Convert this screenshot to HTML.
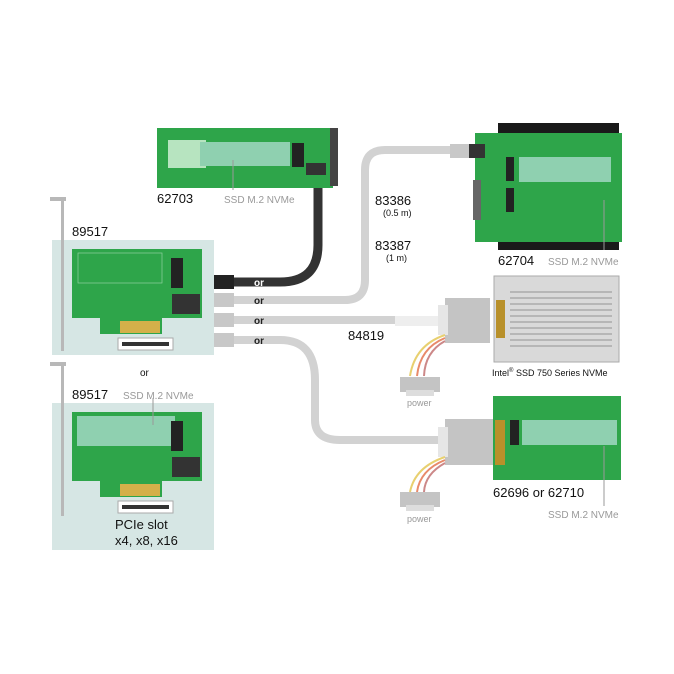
<!DOCTYPE html>
<html><head><meta charset="utf-8"><style>
html,body{margin:0;padding:0;background:#fff}
svg{display:block}
text{font-family:"Liberation Sans",Arial,sans-serif}
</style></head><body>
<svg width="674" height="674" viewBox="0 0 674 674" xmlns="http://www.w3.org/2000/svg">
<rect width="674" height="674" fill="#fff"/>
<rect x="52" y="240" width="162" height="115" fill="#d6e6e4"/>
<rect x="52" y="403" width="162" height="147" fill="#d6e6e4"/>
<path d="M50 197 h16 v4 h-2 v150 h-3 v-150 h-11z" fill="#b8b8b8"/>
<path d="M50 362 h16 v4 h-2 v150 h-3 v-150 h-11z" fill="#b8b8b8"/>
<g>
<path d="M72 249 h130 v69 h-40 v16 h-62 v-16 h-28z" fill="#2ea54a"/>
<rect x="78" y="253" width="84" height="30" fill="none" stroke="#8fd0a0" stroke-width="0.7"/>
<rect x="171" y="258" width="12" height="30" fill="#222"/>
<rect x="172" y="294" width="28" height="20" fill="#333"/>
<rect x="120" y="321" width="40" height="12" fill="#d4b04a"/>
<rect x="118" y="338" width="55" height="12" fill="#fff" stroke="#aaa"/>
<rect x="122" y="342" width="47" height="4" fill="#333"/>
</g>
<g>
<path d="M72 412 h130 v69 h-40 v16 h-62 v-16 h-28z" fill="#2ea54a"/>
<rect x="77" y="416" width="98" height="30" fill="#8fd0b0"/>
<rect x="171" y="421" width="12" height="30" fill="#222"/>
<rect x="172" y="457" width="28" height="20" fill="#333"/>
<rect x="120" y="484" width="40" height="12" fill="#d4b04a"/>
<rect x="118" y="501" width="55" height="12" fill="#fff" stroke="#aaa"/>
<rect x="122" y="505" width="47" height="4" fill="#333"/>
</g>
<rect x="157" y="128" width="176" height="60" fill="#2ea54a"/>
<rect x="168" y="140" width="38" height="28" fill="#b7e4c0"/>
<rect x="200" y="142" width="90" height="24" fill="#8fd0b0"/>
<rect x="292" y="143" width="12" height="24" fill="#222"/>
<rect x="330" y="128" width="8" height="58" fill="#444"/>
<rect x="306" y="163" width="20" height="12" fill="#333"/>
<path d="M318 188 V245 Q318 282 280 282 H232" fill="none" stroke="#333" stroke-width="9"/>
<rect x="214" y="275" width="20" height="14" fill="#222"/>
<g fill="none" stroke="#d2d2d2" stroke-width="8">
<path d="M232 300 H345 Q365 300 365 280 V170 Q365 150 385 150 H455"/>
<path d="M232 320 H450"/>
<path d="M232 340 H280 Q315 340 315 380 V420 Q315 440 340 440 H450"/>
</g>
<rect x="214" y="293" width="20" height="14" fill="#c8c8c8"/>
<rect x="214" y="313" width="20" height="14" fill="#c8c8c8"/>
<rect x="214" y="333" width="20" height="14" fill="#c8c8c8"/>
<rect x="450" y="144" width="20" height="14" fill="#c8c8c8"/>
<rect x="395" y="316" width="45" height="10" fill="#eee"/>
<rect x="498" y="123" width="121" height="127" fill="#1a1a1a"/>
<rect x="475" y="133" width="147" height="109" fill="#2ea54a"/>
<rect x="519" y="157" width="92" height="25" fill="#8fd0b0"/>
<rect x="469" y="144" width="16" height="14" fill="#333"/>
<rect x="506" y="157" width="8" height="24" fill="#222"/>
<rect x="506" y="188" width="8" height="24" fill="#222"/>
<rect x="473" y="180" width="8" height="40" fill="#666"/>
<rect x="494" y="276" width="125" height="86" fill="#d9d9d9" stroke="#aaa"/>
<g stroke="#b6b6b6" stroke-width="2">
<line x1="510" y1="292" x2="612" y2="292"/><line x1="510" y1="298" x2="612" y2="298"/><line x1="510" y1="304" x2="612" y2="304"/><line x1="510" y1="310" x2="612" y2="310"/><line x1="510" y1="316" x2="612" y2="316"/><line x1="510" y1="322" x2="612" y2="322"/><line x1="510" y1="328" x2="612" y2="328"/><line x1="510" y1="334" x2="612" y2="334"/><line x1="510" y1="340" x2="612" y2="340"/><line x1="510" y1="346" x2="612" y2="346"/>
</g>
<rect x="496" y="300" width="9" height="38" fill="#b8902a"/>
<rect x="445" y="298" width="45" height="45" fill="#c4c4c4"/>
<rect x="438" y="305" width="10" height="30" fill="#e6e6e6"/>
<rect x="493" y="396" width="128" height="84" fill="#2ea54a"/>
<rect x="522" y="420" width="95" height="25" fill="#8fd0b0"/>
<rect x="510" y="420" width="9" height="25" fill="#222"/>
<rect x="495" y="420" width="10" height="45" fill="#b8902a"/>
<rect x="445" y="419" width="48" height="46" fill="#c4c4c4"/>
<rect x="438" y="427" width="10" height="30" fill="#e6e6e6"/>
<g fill="none" stroke-width="2">
<path d="M445 335 Q415 345 410 376" stroke="#e8d070"/>
<path d="M445 338 Q420 348 417 376" stroke="#e88a6a"/>
<path d="M445 341 Q425 352 424 376" stroke="#c88"/>
<path d="M445 457 Q415 467 410 492" stroke="#e8d070"/>
<path d="M445 460 Q420 470 417 492" stroke="#e88a6a"/>
<path d="M445 463 Q425 474 424 492" stroke="#c88"/>
</g>
<rect x="400" y="377" width="40" height="15" fill="#c4c4c4"/>
<rect x="406" y="390" width="28" height="6" fill="#ddd"/>
<rect x="400" y="492" width="40" height="15" fill="#c4c4c4"/>
<rect x="406" y="505" width="28" height="6" fill="#ddd"/>
<g stroke="#999" stroke-width="1">
<line x1="233" y1="160" x2="233" y2="190"/>
<line x1="153" y1="398" x2="153" y2="425"/>
<line x1="604" y1="200" x2="604" y2="250"/>
<line x1="604" y1="446" x2="604" y2="506"/>
</g>
<g font-size="13" fill="#111">
<text x="157" y="203">62703</text>
<text x="72" y="236">89517</text>
<text x="72" y="399">89517</text>
<text x="375" y="205">83386</text>
<text x="375" y="250">83387</text>
<text x="348" y="340">84819</text>
<text x="498" y="265">62704</text>
<text x="493" y="497">62696 or 62710</text>
<text x="115" y="529">PCIe slot</text>
<text x="115" y="545">x4, x8, x16</text>
</g>
<g font-size="9" fill="#111">
<text x="383" y="216">(0.5 m)</text>
<text x="386" y="261">(1 m)</text>
<text x="140" y="376" font-size="10">or</text>
<text x="492" y="376">Intel<tspan font-size="6" dy="-4">®</tspan><tspan dy="4"> SSD 750 Series NVMe</tspan></text>
</g>
<text x="254" y="286" font-size="10" fill="#fff" font-weight="bold">or</text>
<g font-size="10" fill="#222" font-weight="bold">
<text x="254" y="304">or</text>
<text x="254" y="324">or</text>
<text x="254" y="344">or</text>
</g>
<g font-size="10" fill="#999">
<text x="224" y="203">SSD M.2 NVMe</text>
<text x="123" y="399">SSD M.2 NVMe</text>
<text x="548" y="265">SSD M.2 NVMe</text>
<text x="548" y="518">SSD M.2 NVMe</text>
<text x="407" y="406" font-size="9">power</text>
<text x="407" y="522" font-size="9">power</text>
</g>
</svg>
</body></html>
